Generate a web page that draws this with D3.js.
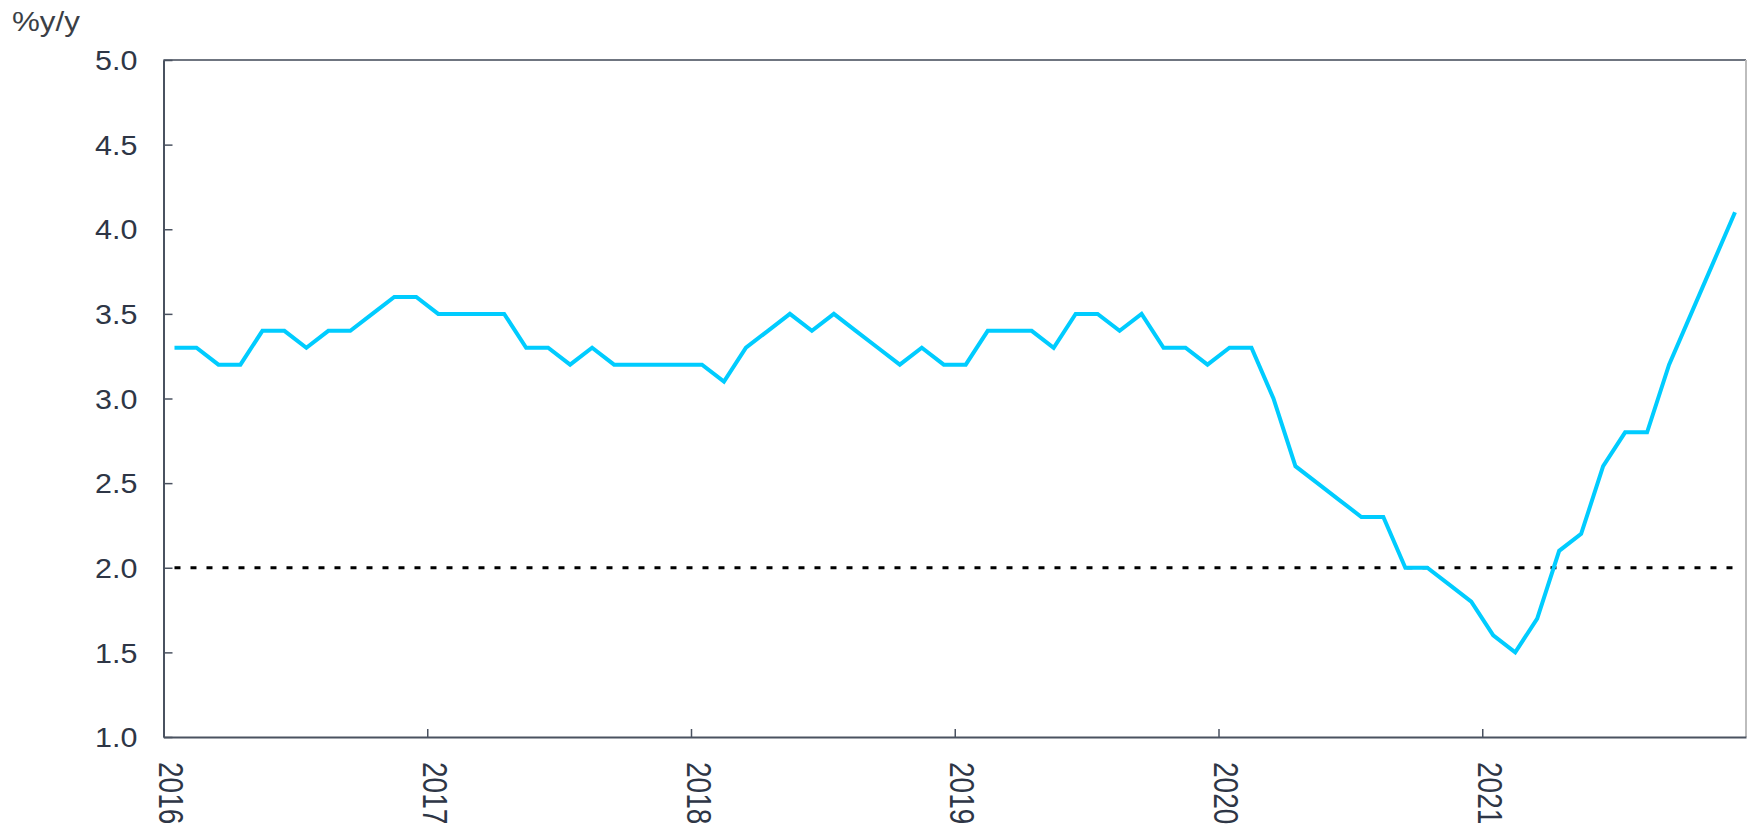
<!DOCTYPE html>
<html>
<head>
<meta charset="utf-8">
<script src="https://cdn.jsdelivr.net/npm/d3@7"></script>
<style>
  html, body { margin: 0; padding: 0; background: #ffffff; }
  svg { display: block; }
  text { font-family: "Liberation Sans", Arial, sans-serif; }
</style>
</head>
<body>
<svg id="chart" width="1748" height="831"></svg>
<script>
// ---- data (monthly, Jan 2016 .. Dec 2021) ----
const years = [2016, 2017, 2018, 2019, 2020, 2021];
const monthLabels = ["Jan","Feb","Mar","Apr","May","Jun","Jul","Aug","Sep","Oct","Nov","Dec"];
const values2016 = [3.3, 3.3, 3.2, 3.2, 3.4, 3.4, 3.3, 3.4, 3.4, 3.5, 3.6, 3.6];
const values2017 = [3.5, 3.5, 3.5, 3.5, 3.3, 3.3, 3.2, 3.3, 3.2, 3.2, 3.2, 3.2];
const values2018 = [3.2, 3.1, 3.3, 3.4, 3.5, 3.4, 3.5, 3.4, 3.3, 3.2, 3.3, 3.2];
const values2019 = [3.2, 3.4, 3.4, 3.4, 3.3, 3.5, 3.5, 3.4, 3.5, 3.3, 3.3, 3.2];
const values2020 = [3.3, 3.3, 3.0, 2.6, 2.5, 2.4, 2.3, 2.3, 2.0, 2.0, 1.9, 1.8];
const values2021 = [1.6, 1.5, 1.7, 2.1, 2.2, 2.6, 2.8, 2.8, 3.2, 3.5, 3.8, 4.1];
const targetValue = 2.0;
const yTicks = [1.0, 1.5, 2.0, 2.5, 3.0, 3.5, 4.0, 4.5, 5.0];
const yAxisTitle = "%y/y";

const yearValues = [values2016, values2017, values2018, values2019, values2020, values2021];
const series = [];
years.forEach((yr, i) => {
  yearValues[i].forEach((v, m) => series.push({ key: yr + "-" + monthLabels[m], value: v }));
});

// ---- layout ----
const svg = d3.select("#chart");
const plotLeft = 163.5, plotRight = 1746, plotTop = 60, plotBottom = 737;
const textColor = "#2e3646";
const stretch = 1.13;

const x = d3.scaleBand().domain(series.map(d => d.key)).range([plotLeft, plotRight]);
const xYears = d3.scaleLinear().domain([years[0], years[years.length - 1] + 1]).range([plotLeft, plotRight]);
const y = d3.scaleLinear().domain([1, 5]).range([plotBottom, plotTop]);
const cx = d => x(d.key) + x.bandwidth() / 2;

// frame: top and right
svg.append("line").attr("x1", plotLeft).attr("x2", plotRight).attr("y1", plotTop).attr("y2", plotTop)
  .attr("stroke", "#6f7580").attr("stroke-width", 2);
svg.append("line").attr("x1", plotRight).attr("x2", plotRight).attr("y1", plotTop).attr("y2", plotBottom)
  .attr("stroke", "#bdbdbd").attr("stroke-width", 2);

// y axis
const gy = svg.append("g").attr("transform", `translate(${plotLeft},0)`)
  .call(d3.axisLeft(y).tickValues(yTicks).tickFormat(d3.format(".1f"))
    .tickSizeInner(-9).tickSizeOuter(0).tickPadding(26));
gy.select(".domain").attr("stroke", "#4a5260").attr("stroke-width", 2);
gy.selectAll(".tick line").attr("stroke", "#4a5260").attr("stroke-width", 1.5);
gy.selectAll(".tick text")
  .attr("x", null).attr("dy", "0.36em")
  .attr("transform", `translate(-26,0) scale(${stretch},1)`)
  .attr("fill", textColor).style("font-size", "27px")
  .style("font-family", '"Liberation Sans", Arial, sans-serif');

// x axis (year boundaries)
const gx = svg.append("g").attr("transform", `translate(0,${plotBottom})`)
  .call(d3.axisBottom(xYears).tickValues(years).tickFormat(d3.format("d"))
    .tickSizeInner(-8).tickSizeOuter(0).tickPadding(0));
gx.select(".domain").attr("stroke", "#4a5260").attr("stroke-width", 2);
gx.selectAll(".tick line").attr("stroke", "#4a5260").attr("stroke-width", 1.5);
gx.selectAll(".tick text")
  .attr("y", null).attr("dy", null)
  .attr("text-anchor", "start")
  .attr("transform", `translate(-5,25) scale(1.25,1) rotate(90)`)
  .attr("fill", textColor).style("font-size", "28px")
  .style("font-family", '"Liberation Sans", Arial, sans-serif');

// target line
svg.append("line")
  .attr("x1", cx(series[0])).attr("x2", cx(series[series.length - 1]))
  .attr("y1", y(targetValue)).attr("y2", y(targetValue))
  .attr("stroke", "#000").attr("stroke-width", 3).attr("stroke-dasharray", "6,10");

// series line
svg.append("path").datum(series)
  .attr("fill", "none").attr("stroke", "#00ccff").attr("stroke-width", 4)
  .attr("stroke-linejoin", "miter")
  .attr("d", d3.line().x(cx).y(d => y(d.value)));

// y title
svg.append("text").attr("transform", `translate(12,31) scale(1.16,1)`)
  .attr("fill", "#3b3f46").style("font-size", "27px").text(yAxisTitle);
</script>
</body>
</html>
